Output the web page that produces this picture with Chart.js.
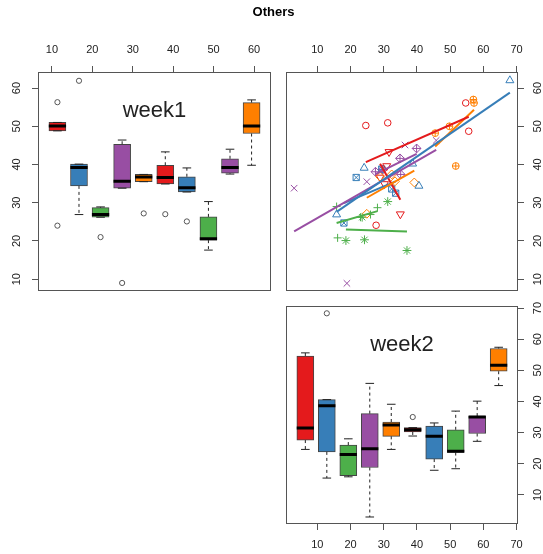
<!DOCTYPE html>
<html>
<head>
<meta charset="utf-8">
<script src="https://cdn.jsdelivr.net/npm/chart.js@4.4.1/dist/chart.umd.min.js"></script>
<style>
  body { margin: 0; background: #fff; font-family: "Liberation Sans", Arial, Helvetica, sans-serif; }
  #page { position: relative; width: 543px; height: 554px; overflow: hidden; }
  canvas { position: absolute; left: 0; top: 0; }
  .txt { position: absolute; text-align: center; color: #222; white-space: nowrap; }
  #title { left: 2px; width: 543px; top: 4px; font-size: 13px; font-weight: bold; color: #000; }
  .week { font-size: 22px; line-height: 22px; }
</style>
</head>
<body>
<div id="page">
  <canvas id="week1Box" width="543" height="554"></canvas>
  <canvas id="pairs" width="543" height="554"></canvas>
  <canvas id="week2Box" width="543" height="554"></canvas>
  <div id="title" class="txt">Others</div>
  <div class="txt week" style="left:38px;width:233px;top:99px">week1</div>
  <div class="txt week" style="left:286px;width:232px;top:333px">week2</div>
</div>
<script>
// boxplot stats per group: [lower whisker, Q1, median, Q3, upper whisker]
const week1Stats = [
  [48.8, 48.8, 50.1, 51.0, 51.0],
  [26.9, 34.4, 39.2, 40.1, 40.1],
  [26.2, 26.2, 26.9, 28.7, 28.9],
  [33.8, 33.8, 35.6, 45.3, 46.4],
  [35.5, 35.5, 36.7, 37.4, 37.4],
  [34.9, 34.9, 36.6, 39.8, 43.3],
  [32.8, 32.8, 33.9, 36.8, 39.1],
  [17.6, 20.2, 20.6, 26.3, 30.3],
  [37.5, 37.7, 39.2, 41.5, 44.0],
  [39.8, 48.1, 50.1, 56.2, 56.9]
];
const week1Outliers = [[56.3, 24.0], [61.9], [21.0], [9.0], [27.2], [27.0], [25.1], [], [], []];

const week2Stats = [
  [24.6, 27.6, 31.5, 54.6, 55.6],
  [15.4, 23.8, 38.6, 40.6, 40.6],
  [15.8, 16.2, 23.0, 26.0, 28.0],
  [2.9, 18.8, 24.8, 36.1, 45.8],
  [24.6, 28.8, 32.4, 33.4, 39.1],
  [28.9, 30.2, 30.9, 31.6, 31.6],
  [17.9, 21.5, 28.8, 32.1, 33.1],
  [18.4, 23.6, 24.0, 30.9, 36.9],
  [27.2, 29.7, 35.0, 35.3, 40.1],
  [45.1, 49.7, 51.6, 57.0, 57.4]
];
const week2Outliers = [[], [68.3], [], [], [], [35.0], [], [], [], []];

// scatter: week2 (x) against week1 (y), one list per group
const week2Values = [
  [24.6, 31.2, 54.7, 55.6, 27.7],
  [68.0, 24.1, 38.7, 40.6, 15.8],
  [16.1, 15.8, 23.0, 26.0, 28.1],
  [3.0, 18.9, 24.9, 36.4, 45.8],
  [24.9, 28.9, 32.4, 33.4, 39.2],
  [28.9, 30.2, 30.9, 31.6, 35.0],
  [21.7, 18.0, 29.4, 32.4, 33.6],
  [18.6, 24.2, 37.0, 31.2, 23.5],
  [39.9, 34.9, 27.5, 35.1, 29.7],
  [57.0, 57.2, 49.8, 45.5, 51.7]
];
const week1Values = [
  [50.2, 50.9, 56.1, 48.7, 24.1],
  [62.0, 39.1, 40.2, 34.4, 26.9],
  [20.8, 29.0, 26.2, 26.9, 28.7],
  [33.8, 8.9, 35.5, 45.1, 46.3],
  [27.1, 36.8, 37.4, 35.6, 35.3],
  [36.6, 34.9, 39.6, 43.3, 27.0],
  [36.6, 24.7, 38.8, 33.6, 32.5],
  [20.1, 20.3, 17.5, 30.3, 26.2],
  [44.2, 41.6, 38.1, 37.4, 38.7],
  [57.0, 56.1, 50.0, 48.2, 39.6]
];
// fitted line per group: [x0, y0, x1, y1]
const fitLines = [
  [24.6, 40.6, 55.6, 52.5],
  [15.8, 27.6, 68.0, 58.8],
  [15.8, 24.7, 28.1, 27.8],
  [3.0, 22.5, 45.8, 43.8],
  [24.9, 31.3, 39.2, 38.4],
  [28.9, 40.2, 35.0, 30.8],
  [18.0, 29.9, 33.6, 35.6],
  [18.6, 23.0, 37.0, 22.5],
  [27.5, 37.5, 39.9, 42.8],
  [45.5, 44.7, 57.2, 54.3]
];

const week1Ticks = [10, 20, 30, 40, 50, 60];
const week2Ticks = [10, 20, 30, 40, 50, 60, 70];

const set1 = ['#E41A1C', '#377EB8', '#4DAF4A', '#984EA3', '#FF7F00'];
const pch = [
  [['circle', 3.3, 0]],
  [['triangle', 4.6, 0]],
  [['cross', 4, 0]],
  [['crossRot', 4.6, 0]],
  [['rectRot', 4.4, 0]],
  [['triangle', 4.6, 180]],
  [['rect', 4.4, 0], ['crossRot', 4.4, 0]],
  [['star', 4.4, 0]],
  [['rectRot', 4.4, 0], ['cross', 4.4, 0]],
  [['circle', 3.4, 0], ['cross', 3.4, 0]]
];

Chart.defaults.font.family = '"Liberation Sans", Arial, Helvetica, sans-serif';
Chart.defaults.color = '#222';

const frame = {
  id: 'frame',
  afterDraw(chart) {
    const a = chart.chartArea, ctx = chart.ctx;
    ctx.save();
    ctx.strokeStyle = '#555';
    ctx.lineWidth = 1;
    ctx.strokeRect(Math.round(a.left) + 0.5, Math.round(a.top) + 0.5,
      Math.round(a.right - a.left) - 1, Math.round(a.bottom - a.top) - 1);
    ctx.restore();
  }
};

function tickScale(position, min, max, values, size, pad) {
  const vertical = position === 'left' || position === 'right';
  return {
    type: 'linear', position, min, max, offset: false,
    afterBuildTicks: s => { s.ticks = values.map(v => ({ value: v })); },
    afterFit: s => { if (vertical) s.width = size; else s.height = size; },
    grid: { drawOnChartArea: false, drawTicks: true, tickLength: 6, color: '#555', offset: false },
    border: { display: false },
    ticks: {
      autoSkip: false, color: '#222', font: { size: 11 }, padding: pad,
      minRotation: vertical ? 90 : 0, maxRotation: vertical ? 90 : 0,
      crossAlign: vertical ? 'center' : 'near'
    }
  };
}

// hidden axis that places the boxes at group positions 1..10
const boxAxis = { type: 'linear', display: false, min: 0.1, max: 10.9, offset: false, grid: { offset: false } };

function boxDatasets(stats, outliers) {
  const med = [], whisk = [], caps = [], outs = [];
  const gap = x => ({ x, y: null });
  stats.forEach(([lo, q1, m, q3, hi], i) => {
    const x = i + 1;
    med.push({ x: x - 0.4, y: m }, { x: x + 0.4, y: m }, gap(x));
    whisk.push({ x, y: q3 }, { x, y: hi }, gap(x), { x, y: q1 }, { x, y: lo }, gap(x));
    caps.push({ x: x - 0.2, y: hi }, { x: x + 0.2, y: hi }, gap(x),
              { x: x - 0.2, y: lo }, { x: x + 0.2, y: lo }, gap(x));
    outliers[i].forEach(v => outs.push({ x, y: v }));
  });
  return [
    { type: 'line', data: med, borderColor: '#000', borderWidth: 3, pointRadius: 0, borderCapStyle: 'butt', order: 0 },
    { type: 'scatter', data: outs, pointStyle: 'circle', pointRadius: 2.6, pointBorderColor: '#555',
      pointBorderWidth: 1, pointBackgroundColor: 'rgba(0,0,0,0)', order: 0 },
    { type: 'line', data: caps, borderColor: '#222', borderWidth: 1, pointRadius: 0, order: 1 },
    { type: 'line', data: whisk, borderColor: '#222', borderWidth: 1, borderDash: [3, 3], pointRadius: 0, order: 2 },
    { type: 'bar', data: stats.map((s, i) => ({ x: i + 1, y: [s[1], s[3]] })),
      backgroundColor: stats.map((s, i) => set1[i % 5]), borderColor: '#444', borderWidth: 1,
      borderSkipped: false, barThickness: 17, order: 3 }
  ];
}

const common = {
  responsive: false,
  animation: false,
  plugins: { legend: { display: false }, tooltip: { enabled: false } }
};

new Chart(document.getElementById('week1Box'), {
  type: 'bar',
  data: { datasets: boxDatasets(week1Stats, week1Outliers) },
  options: {
    ...common,
    layout: { padding: { left: 0, top: 0, right: 272, bottom: 263 } },
    scales: {
      x: boxAxis,
      xt: tickScale('top', 6.55, 64.2, week1Ticks, 72, 9),
      y: tickScale('left', 6.9, 64.2, week1Ticks, 38, 9)
    }
  },
  plugins: [frame]
});

const pairSets = [];
week2Values.forEach((xs, g) => {
  const pts = xs.map((x, k) => ({ x, y: week1Values[g][k] }));
  pch[g].forEach(([style, r, rot]) => {
    pairSets.push({
      type: 'scatter', data: pts, pointStyle: style, pointRadius: r, pointRotation: rot,
      pointBorderColor: set1[g % 5], pointBackgroundColor: 'rgba(0,0,0,0)', pointBorderWidth: 1, order: 1
    });
  });
  const [x0, y0, x1, y1] = fitLines[g];
  pairSets.push({
    type: 'line', data: [{ x: x0, y: y0 }, { x: x1, y: y1 }], borderColor: set1[g % 5],
    borderWidth: 2, pointRadius: 0, order: 0
  });
});

new Chart(document.getElementById('pairs'), {
  type: 'scatter',
  data: { datasets: pairSets },
  options: {
    ...common,
    layout: { padding: { left: 286, top: 0, right: 0, bottom: 263 } },
    scales: {
      x: tickScale('top', 0.55, 70.45, week2Ticks, 72, 9),
      y: tickScale('right', 6.9, 64.2, week1Ticks, 25, 8)
    }
  },
  plugins: [frame]
});

new Chart(document.getElementById('week2Box'), {
  type: 'bar',
  data: { datasets: boxDatasets(week2Stats, week2Outliers) },
  options: {
    ...common,
    layout: { padding: { left: 286, top: 306, right: 0, bottom: 0 } },
    scales: {
      x: boxAxis,
      xt: tickScale('bottom', 0.55, 70.45, week2Ticks, 30, 8),
      y: tickScale('right', 0.65, 70.65, week2Ticks, 25, 8)
    }
  },
  plugins: [frame]
});
</script>
</body>
</html>
